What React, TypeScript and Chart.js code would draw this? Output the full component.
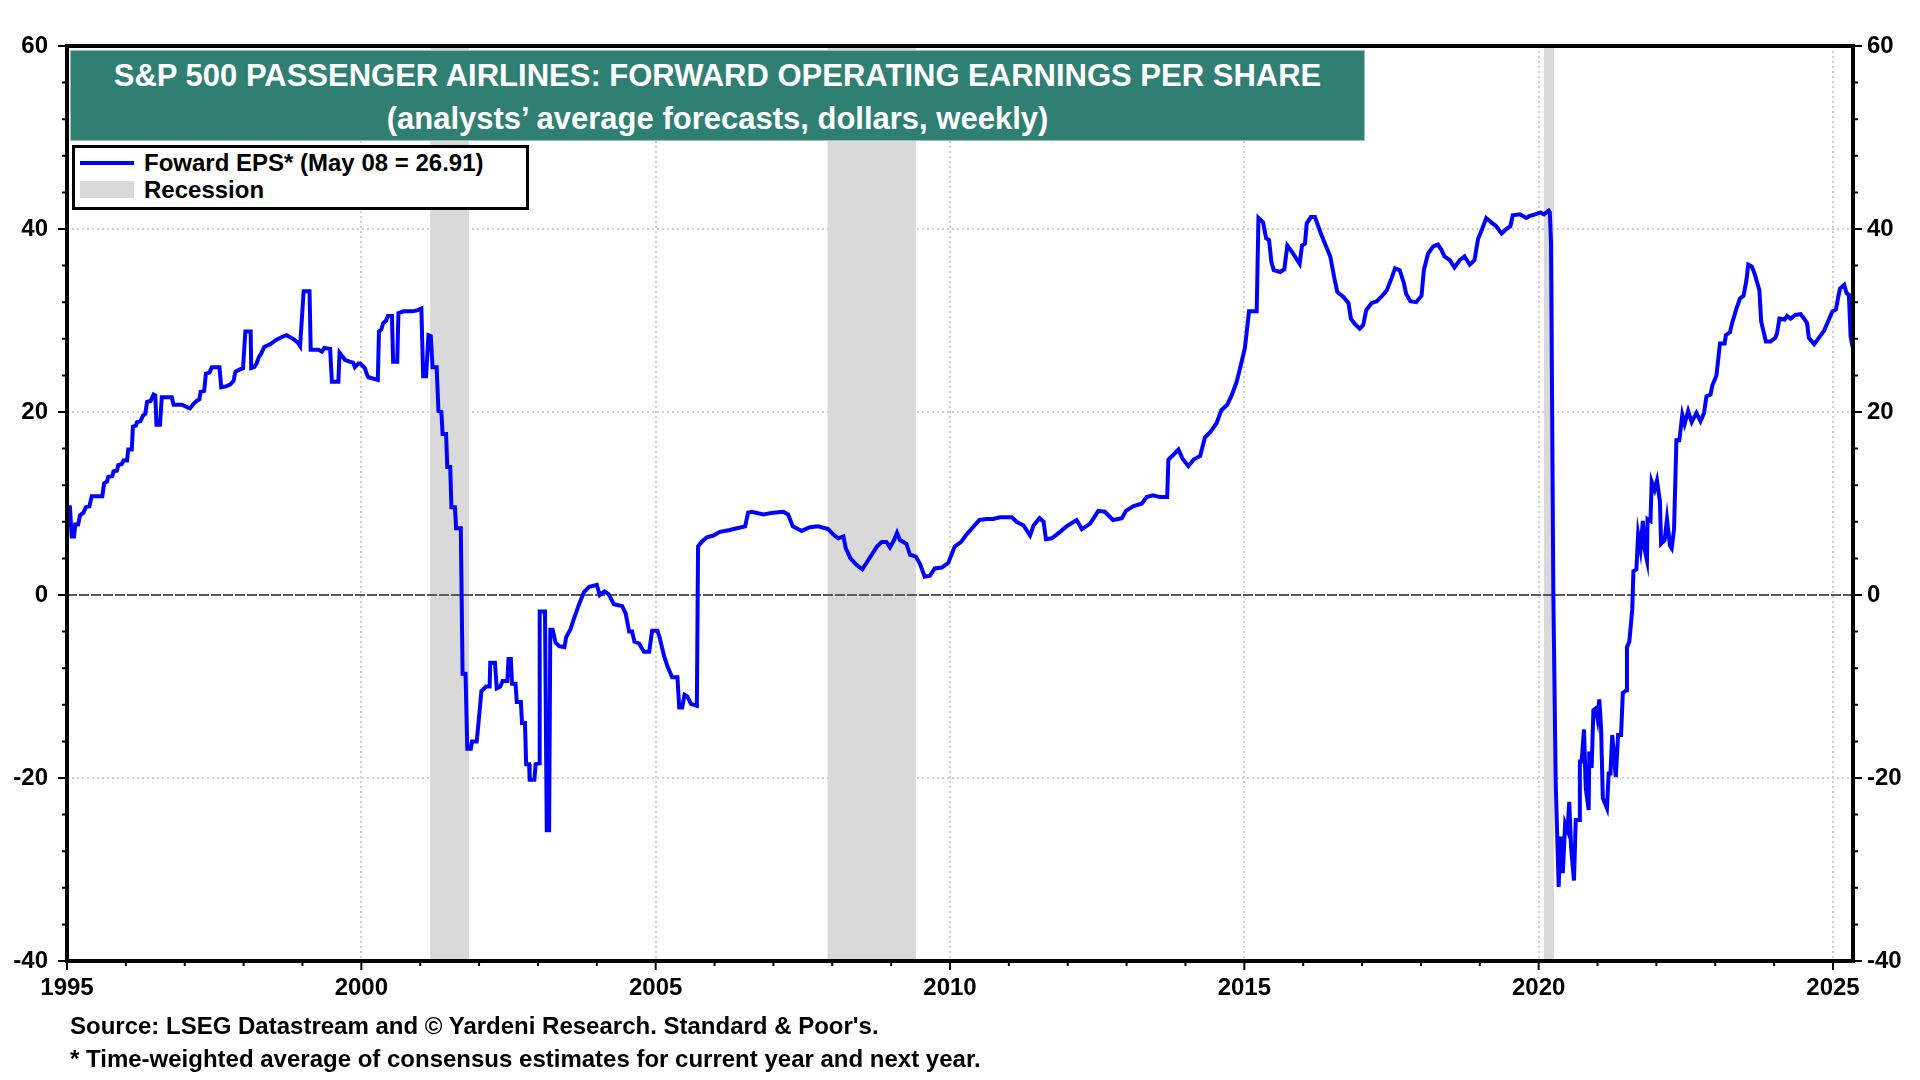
import { useEffect, useRef } from 'react';
import { Chart, registerables } from 'chart.js';

Chart.register(...registerables);

// fechas en años decimales (semanal)
const epsDates = [
  1995.0, 1995.05, 1995.08, 1995.12, 1995.14, 1995.19, 1995.22, 1995.28, 1995.32, 1995.38,
  1995.42, 1995.6, 1995.63, 1995.68, 1995.7, 1995.77, 1995.79, 1995.85, 1995.87, 1995.93,
  1995.96, 1996.02, 1996.04, 1996.1, 1996.12, 1996.17, 1996.19, 1996.25, 1996.29, 1996.33,
  1996.36, 1996.42, 1996.47, 1996.5, 1996.52, 1996.58, 1996.61, 1996.78, 1996.81, 1996.95,
  1997.05, 1997.09, 1997.15, 1997.2, 1997.25, 1997.27, 1997.33, 1997.36, 1997.42, 1997.46,
  1997.59, 1997.62, 1997.7, 1997.77, 1997.83, 1997.86, 1997.92, 1997.99, 1998.03, 1998.12,
  1998.13, 1998.18, 1998.22, 1998.26, 1998.3, 1998.35, 1998.45, 1998.56, 1998.65, 1998.73,
  1998.84, 1998.92, 1998.96, 1999.02, 1999.12, 1999.14, 1999.27, 1999.33, 1999.37, 1999.47,
  1999.5, 1999.61, 1999.63, 1999.69, 1999.72, 1999.8, 1999.86, 1999.89, 1999.95, 1999.98,
  2000.06, 2000.1, 2000.12, 2000.28, 2000.3, 2000.34, 2000.37, 2000.42, 2000.45, 2000.52,
  2000.54, 2000.61, 2000.63, 2000.72, 2000.86, 2000.95, 2001.02, 2001.05, 2001.1, 2001.14,
  2001.18, 2001.21, 2001.28, 2001.31, 2001.36, 2001.38, 2001.44, 2001.46, 2001.51, 2001.53,
  2001.59, 2001.61, 2001.69, 2001.72, 2001.77, 2001.8, 2001.86, 2001.88, 2001.96, 2001.99,
  2002.04, 2002.12, 2002.18, 2002.19, 2002.27, 2002.3, 2002.36, 2002.4, 2002.48, 2002.5,
  2002.54, 2002.56, 2002.62, 2002.64, 2002.71, 2002.73, 2002.78, 2002.8, 2002.85, 2002.86,
  2002.94, 2002.96, 2003.02, 2003.03, 2003.12, 2003.15, 2003.19, 2003.21, 2003.25, 2003.3,
  2003.36, 2003.45, 2003.48, 2003.55, 2003.61, 2003.7, 2003.78, 2003.87, 2004.0, 2004.05,
  2004.13, 2004.2, 2004.29, 2004.43, 2004.49, 2004.55, 2004.6, 2004.64, 2004.72, 2004.8,
  2004.89, 2004.94, 2005.03, 2005.07, 2005.14, 2005.2, 2005.28, 2005.37, 2005.4, 2005.45,
  2005.49, 2005.54, 2005.6, 2005.7, 2005.72, 2005.78, 2005.87, 2005.98, 2006.09, 2006.26,
  2006.38, 2006.52, 2006.57, 2006.63, 2006.83, 2007.0, 2007.17, 2007.25, 2007.33, 2007.48,
  2007.62, 2007.76, 2007.93, 2008.02, 2008.1, 2008.19, 2008.23, 2008.31, 2008.41, 2008.51,
  2008.58, 2008.67, 2008.76, 2008.84, 2008.92, 2008.98, 2009.05, 2009.1, 2009.15, 2009.26,
  2009.32, 2009.42, 2009.49, 2009.57, 2009.66, 2009.74, 2009.86, 2009.97, 2010.08, 2010.19,
  2010.28, 2010.39, 2010.5, 2010.62, 2010.73, 2010.85, 2011.05, 2011.13, 2011.25, 2011.36,
  2011.42, 2011.52, 2011.59, 2011.63, 2011.73, 2011.87, 2011.98, 2012.15, 2012.24, 2012.38,
  2012.52, 2012.63, 2012.77, 2012.92, 2012.99, 2013.11, 2013.26, 2013.34, 2013.45, 2013.57,
  2013.69, 2013.71, 2013.79, 2013.88, 2013.95, 2014.05, 2014.14, 2014.25, 2014.33, 2014.42,
  2014.53, 2014.61, 2014.71, 2014.79, 2014.87, 2014.94, 2015.01, 2015.08, 2015.21, 2015.24,
  2015.32, 2015.37, 2015.42, 2015.46, 2015.5, 2015.61, 2015.68, 2015.73, 2015.81, 2015.94,
  2015.98, 2016.03, 2016.06, 2016.13, 2016.2, 2016.29, 2016.37, 2016.46, 2016.53, 2016.58,
  2016.68, 2016.77, 2016.81, 2016.88, 2016.96, 2017.02, 2017.07, 2017.16, 2017.25, 2017.33,
  2017.42, 2017.5, 2017.56, 2017.64, 2017.71, 2017.75, 2017.82, 2017.92, 2018.01, 2018.05,
  2018.12, 2018.21, 2018.29, 2018.35, 2018.4, 2018.49, 2018.57, 2018.66, 2018.74, 2018.83,
  2018.91, 2018.97, 2019.04, 2019.11, 2019.2, 2019.28, 2019.37, 2019.45, 2019.52, 2019.56,
  2019.68, 2019.79, 2019.84, 2019.94, 2020.03, 2020.09, 2020.17, 2020.19, 2020.21, 2020.25,
  2020.29, 2020.34, 2020.37, 2020.41, 2020.45, 2020.49, 2020.52, 2020.55, 2020.6, 2020.63,
  2020.69, 2020.7, 2020.73, 2020.77, 2020.8, 2020.85, 2020.86, 2020.9, 2020.93, 2020.97,
  2021.0, 2021.03, 2021.06, 2021.09, 2021.16, 2021.19, 2021.22, 2021.25, 2021.31, 2021.35,
  2021.4, 2021.43, 2021.49, 2021.5, 2021.54, 2021.59, 2021.61, 2021.66, 2021.69, 2021.73,
  2021.77, 2021.8, 2021.84, 2021.85, 2021.9, 2021.92, 2021.97, 2022.01, 2022.06, 2022.08,
  2022.14, 2022.18, 2022.23, 2022.26, 2022.3, 2022.34, 2022.39, 2022.44, 2022.48, 2022.54,
  2022.6, 2022.68, 2022.75, 2022.81, 2022.85, 2022.92, 2022.95, 2023.02, 2023.08, 2023.16,
  2023.18, 2023.25, 2023.29, 2023.36, 2023.42, 2023.48, 2023.53, 2023.56, 2023.62, 2023.67,
  2023.75, 2023.78, 2023.86, 2023.94, 2024.02, 2024.05, 2024.09, 2024.18, 2024.22, 2024.28,
  2024.36, 2024.45, 2024.51, 2024.56, 2024.59, 2024.68, 2024.76, 2024.85, 2024.93, 2024.99,
  2025.05, 2025.09, 2025.12, 2025.19, 2025.23, 2025.27, 2025.3, 2025.34,
];

// Forward EPS (dólares)
const epsValues = [
  9.6, 9.6, 6.4, 6.4, 7.7, 7.7, 8.7, 9.0, 9.6, 9.7,
  10.8, 10.8, 12.2, 12.4, 12.9, 13.0, 13.5, 13.6, 14.2, 14.3,
  14.7, 14.7, 15.9, 15.9, 18.4, 18.5, 18.9, 19.0, 19.6, 19.8,
  21.1, 21.2, 21.9, 21.8, 18.6, 18.6, 21.6, 21.6, 20.8, 20.8,
  20.5, 20.4, 20.9, 21.2, 21.4, 22.2, 22.3, 24.2, 24.3, 24.9,
  24.9, 22.7, 22.8, 23.0, 23.4, 24.4, 24.6, 24.8, 28.8, 28.8,
  24.8, 24.9, 25.3, 26.0, 26.4, 27.1, 27.4, 27.9, 28.2, 28.4,
  28.0, 27.6, 27.2, 33.2, 33.2, 26.8, 26.8, 26.6, 27.0, 26.9,
  23.3, 23.3, 26.5, 26.0, 25.7, 25.5, 25.4, 24.9, 25.3, 25.3,
  24.8, 24.0, 23.8, 23.5, 28.8, 29.0, 29.7, 30.0, 30.5, 30.5,
  25.5, 25.5, 30.8, 31.0, 31.0, 31.1, 31.3, 23.9, 23.9, 28.4,
  28.3, 24.9, 24.9, 20.1, 20.0, 17.6, 17.6, 14.0, 14.0, 9.6,
  9.6, 7.3, 7.3, -8.6, -8.6, -16.8, -16.8, -16.0, -16.0, -14.0,
  -10.5, -10.0, -10.0, -7.4, -7.4, -10.2, -10.0, -9.4, -9.4, -7.0,
  -7.0, -9.7, -9.7, -11.7, -11.7, -14.0, -14.0, -18.5, -18.5, -20.2,
  -20.2, -18.5, -18.4, -1.8, -1.8, -25.7, -25.7, -3.8, -3.8, -5.2,
  -5.6, -5.7, -4.6, -3.8, -2.6, -1.0, 0.3, 0.9, 1.1, 0.0,
  0.4, 0.1, -1.0, -1.2, -2.0, -4.0, -4.0, -5.1, -5.3, -6.2,
  -6.2, -3.9, -3.9, -4.7, -6.6, -7.8, -9.0, -9.0, -12.3, -12.3,
  -10.9, -11.1, -11.9, -12.1, 5.3, 5.8, 6.3, 6.5, 6.9, 7.1,
  7.3, 7.5, 9.0, 9.1, 8.8, 9.0, 9.1, 8.8, 7.5, 7.0,
  7.4, 7.5, 7.2, 6.6, 6.2, 6.4, 5.1, 4.0, 3.3, 2.8,
  3.5, 4.4, 5.3, 5.8, 5.8, 5.2, 6.0, 6.8, 6.0, 5.6,
  4.4, 4.2, 3.4, 2.0, 2.1, 2.9, 3.0, 3.5, 5.3, 5.8,
  6.6, 7.4, 8.2, 8.3, 8.3, 8.5, 8.5, 8.0, 7.6, 6.5,
  7.6, 8.4, 8.0, 6.1, 6.2, 6.9, 7.5, 8.2, 7.2, 7.8,
  9.2, 9.1, 8.2, 8.4, 9.2, 9.7, 10.0, 10.7, 10.9, 10.7,
  10.7, 14.8, 15.3, 15.9, 14.9, 14.1, 14.8, 15.2, 17.2, 17.8,
  18.8, 20.2, 20.8, 21.9, 23.3, 25.1, 27.0, 31.0, 31.0, 41.2,
  40.7, 39.0, 38.8, 36.4, 35.5, 35.3, 35.6, 38.2, 37.5, 36.2,
  38.2, 38.4, 40.6, 41.3, 41.3, 39.7, 38.4, 37.0, 34.6, 33.1,
  32.6, 31.9, 30.2, 29.6, 29.1, 29.5, 31.1, 31.9, 32.1, 32.6,
  33.3, 34.6, 35.7, 35.5, 34.1, 32.9, 32.1, 32.0, 32.7, 35.5,
  37.3, 38.1, 38.3, 37.7, 37.0, 36.6, 35.8, 36.6, 37.0, 36.1,
  36.6, 38.9, 40.0, 41.2, 40.7, 40.3, 39.5, 40.0, 40.3, 41.5,
  41.6, 41.2, 41.4, 41.6, 41.8, 41.6, 42.0, 41.8, 38.5, 0.0,
  -20.6, -31.9, -26.4, -30.4, -25.0, -25.7, -22.6, -27.5, -31.2, -24.6,
  -24.6, -18.2, -18.2, -14.7, -21.1, -23.5, -17.1, -18.9, -12.6, -12.4,
  -13.5, -11.4, -14.4, -22.2, -23.3, -19.5, -19.5, -15.3, -19.9, -15.3,
  -15.3, -10.7, -10.4, -5.7, -5.1, -1.6, 2.6, 2.8, 6.6, 5.0,
  8.1, 5.0, 3.8, 8.3, 8.1, 12.4, 11.5, 12.5, 10.2, 5.6,
  6.0, 8.3, 5.4, 5.1, 7.2, 16.9, 16.9, 19.7, 18.7, 20.1,
  18.9, 19.9, 19.0, 19.9, 21.7, 21.9, 22.9, 24.0, 27.5, 27.5,
  28.4, 28.7, 29.8, 31.3, 32.4, 32.7, 34.4, 36.1, 35.9, 35.1,
  33.3, 29.9, 27.7, 27.7, 28.1, 28.6, 30.2, 30.1, 30.5, 30.2,
  30.6, 30.7, 30.2, 29.7, 28.1, 27.4, 28.1, 28.9, 30.1, 31.0,
  31.2, 32.6, 33.5, 33.9, 33.0, 32.8, 28.2, 26.9,
];

// recesiones (inicio / fin)
const recessionStart = [2001.17, 2007.92, 2020.09];
const recessionEnd = [2001.83, 2009.42, 2020.26];

// etiquetas de los ejes
const yearLabels = [1995, 2000, 2005, 2010, 2015, 2020, 2025];
const valueLabels = [-40, -20, 0, 20, 40, 60];
// marcas menores
const yearTicks = Array.from({ length: 31 }, (_, i) => 1995 + i);
const valueTicks = Array.from({ length: 26 }, (_, i) => -40 + i * 4);

const FONT = "'Liberation Sans', Arial, Helvetica, sans-serif";
const GRID = '#D0D0D0';

const framePlugin = {
  id: 'frame',
  beforeDatasetsDraw(chart: any) {
    const { ctx, chartArea, scales } = chart;
    const x = scales.x;
    const y = scales.y;
    ctx.save();
    // bandas de recesión
    ctx.fillStyle = '#D9D9D9';
    for (let i = 0; i < recessionStart.length; i++) {
      const x1 = x.getPixelForValue(recessionStart[i]);
      const x2 = x.getPixelForValue(recessionEnd[i]);
      ctx.fillRect(x1, chartArea.top, x2 - x1, chartArea.bottom - chartArea.top);
    }
    // línea del cero
    const y0 = y.getPixelForValue(0);
    ctx.strokeStyle = '#5A5A5A';
    ctx.lineWidth = 2;
    ctx.setLineDash([10, 2]);
    ctx.beginPath();
    ctx.moveTo(chartArea.left, y0);
    ctx.lineTo(chartArea.right, y0);
    ctx.stroke();
    ctx.restore();
  },
  afterDraw(chart: any) {
    const { ctx, chartArea, scales } = chart;
    ctx.save();
    ctx.strokeStyle = '#000';
    ctx.lineWidth = 2;
    // marcas del eje x
    for (const t of scales.x.ticks) {
      const px = scales.x.getPixelForValue(t.value);
      const len = yearLabels.includes(t.value) ? 9 : 5;
      ctx.beginPath();
      ctx.moveTo(px, chartArea.bottom);
      ctx.lineTo(px, chartArea.bottom + len);
      ctx.stroke();
    }
    // marcas de los ejes y
    for (const t of scales.y.ticks) {
      const py = scales.y.getPixelForValue(t.value);
      const len = valueLabels.includes(t.value) ? 9 : 5;
      ctx.beginPath();
      ctx.moveTo(chartArea.left - len, py);
      ctx.lineTo(chartArea.left, py);
      ctx.moveTo(chartArea.right, py);
      ctx.lineTo(chartArea.right + len, py);
      ctx.stroke();
    }
    // marco
    ctx.lineWidth = 4;
    ctx.strokeRect(chartArea.left, chartArea.top, chartArea.right - chartArea.left, chartArea.bottom - chartArea.top);
    ctx.restore();
  },
};

const tickFont = { family: FONT, size: 24, weight: 'bold' as const };

function EpsChart() {
  const chartRef = useRef<HTMLCanvasElement>(null);
  const chartInstance = useRef<Chart | null>(null);

  useEffect(() => {
    if (!chartRef.current) return;
    const ctx = chartRef.current.getContext('2d');
    if (!ctx) return;
    if (chartInstance.current) chartInstance.current.destroy();

    const yAxis = (position: 'left' | 'right', onChart: boolean, pad: number, w: number) => ({
      type: 'linear' as const,
      position,
      min: -40,
      max: 60,
      afterFit: (s: any) => { s.width = w; },
      afterBuildTicks: (s: any) => { s.ticks = valueTicks.map((v) => ({ value: v })); },
      ticks: {
        autoSkip: false,
        padding: pad,
        color: '#000',
        font: tickFont,
        callback: (v: any) => (valueLabels.includes(v) ? String(v) : ''),
      },
      grid: {
        drawOnChartArea: onChart,
        drawTicks: true,
        tickLength: 8,
        tickColor: 'transparent',
        lineWidth: 2,
        color: (c: any) => (c.tick && valueLabels.includes(c.tick.value) && c.tick.value !== 0 ? GRID : 'transparent'),
      },
      border: { display: false, dash: [2, 3] },
    });

    chartInstance.current = new Chart(ctx, {
      type: 'line',
      data: {
        datasets: [{
          label: 'Foward EPS* (May 08 = 26.91)',
          data: epsDates.map((d, i) => ({ x: d, y: epsValues[i] })),
          borderColor: '#0000FF',
          borderWidth: 4,
          pointRadius: 0,
          tension: 0,
          fill: false,
          yAxisID: 'y',
        }],
      },
      options: {
        responsive: false,
        maintainAspectRatio: false,
        animation: false,
        devicePixelRatio: 1,
        layout: { padding: { top: 46, left: 0, right: 0, bottom: 0 } },
        plugins: {
          legend: { display: false },
          tooltip: { enabled: false },
        },
        scales: {
          x: {
            type: 'linear',
            min: 1995,
            max: 2025.34,
            afterFit: (s: any) => { s.height = 119; },
            afterBuildTicks: (s: any) => { s.ticks = yearTicks.map((v) => ({ value: v })); },
            ticks: {
              autoSkip: false,
              maxRotation: 0,
              padding: 5,
              color: '#000',
              font: tickFont,
              callback: (v: any) => (yearLabels.includes(v) ? String(v) : ''),
            },
            grid: {
              drawTicks: true,
              tickLength: 8,
              tickColor: 'transparent',
              lineWidth: 2,
              color: (c: any) => (c.tick && yearLabels.includes(c.tick.value) && c.tick.value !== 1995 ? GRID : 'transparent'),
            },
            border: { display: false, dash: [2, 3] },
          },
          y: yAxis('left', true, 11, 67),
          y1: yAxis('right', false, 6, 67),
        },
      },
      plugins: [framePlugin],
    });

    return () => {
      if (chartInstance.current) {
        chartInstance.current.destroy();
        chartInstance.current = null;
      }
    };
  }, []);

  return <canvas ref={chartRef} width={1920} height={1080} style={{ position: 'absolute', left: 0, top: 0 }} />;
}

export default function App() {
  const text = { fontFamily: FONT, fontWeight: 'bold' as const };
  return (
    <div style={{ position: 'fixed', left: 0, top: 0, width: 1920, height: 1080, background: '#fff', overflow: 'hidden' }}>
      <EpsChart />
      {/* título */}
      <div
        style={{
          ...text,
          position: 'absolute', left: 70, top: 50, width: 1295, height: 91,
          boxSizing: 'border-box', background: '#2F7F72', border: '1px solid #9CC3BA',
          color: '#fff', fontSize: 31, lineHeight: '43px', textAlign: 'center', paddingTop: 3,
        }}
      >
        <div>S&amp;P 500 PASSENGER AIRLINES: FORWARD OPERATING EARNINGS PER SHARE</div>
        <div>(analysts’ average forecasts, dollars, weekly)</div>
      </div>
      {/* leyenda */}
      <div
        style={{
          ...text,
          position: 'absolute', left: 72, top: 145, width: 457, height: 65,
          boxSizing: 'border-box', background: '#fff', border: '3px solid #000',
          color: '#000', fontSize: 24,
        }}
      >
        <div style={{ position: 'absolute', left: 5, top: 13, width: 54, height: 4, background: '#0000FF' }} />
        <div style={{ position: 'absolute', left: 69, top: 1, lineHeight: '27px' }}>Foward EPS* (May 08 = 26.91)</div>
        <div style={{ position: 'absolute', left: 5, top: 33, width: 54, height: 17, background: '#D9D9D9' }} />
        <div style={{ position: 'absolute', left: 69, top: 28, lineHeight: '27px' }}>Recession</div>
      </div>
      {/* notas */}
      <div style={{ ...text, position: 'absolute', left: 70, top: 1012, fontSize: 24, lineHeight: '28px', color: '#000' }}>
        Source: LSEG Datastream and © Yardeni Research. Standard &amp; Poor's.
      </div>
      <div style={{ ...text, position: 'absolute', left: 70, top: 1045, fontSize: 24, lineHeight: '28px', color: '#000' }}>
        * Time-weighted average of consensus estimates for current year and next year.
      </div>
    </div>
  );
}
